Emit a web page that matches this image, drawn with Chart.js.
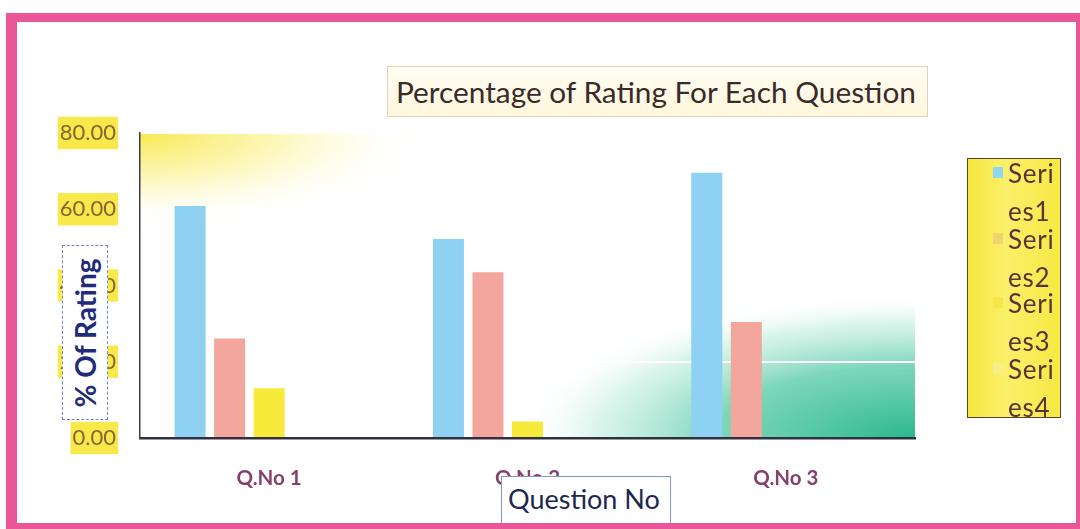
<!DOCTYPE html>
<html>
<head>
<meta charset="utf-8">
<script src="https://cdn.jsdelivr.net/npm/chart.js@4.4.1/dist/chart.umd.min.js"></script>
<style>
  html, body { margin:0; padding:0; background:#fff; }
  #wrap { position:relative; width:1080px; height:529px; overflow:hidden; background:#fff; font-family: Lato, "Open Sans", sans-serif; }
  #c { position:absolute; left:0; top:0; }
  #frame { position:absolute; left:6px; top:13px; width:1074px; height:516px; box-sizing:border-box;
           border-left:11px solid #ea5698; border-top:9px solid #ea5698; border-right:4px solid #ea5698; border-bottom:6px solid #ea5698; }
  #title { position:absolute; left:387px; top:66px; width:541px; height:51px; box-sizing:border-box;
           border:1px solid #ddd3c0; background:linear-gradient(180deg,#fffdf3,#fff7dc);
           font-size:29.8px; color:#3a2a2a; line-height:49px; padding-left:8px; white-space:nowrap; }
  #ytitle { position:absolute; left:62px; top:245px; width:46px; height:175px; box-sizing:border-box;
            border:1.5px dashed #6f86c8; background:#fff; }
  #ytitle span { position:absolute; left:50%; top:50%; transform:translate(-50%,-50%) rotate(-90deg);
                 font-weight:700; font-size:28px; color:#1f2b7b; white-space:nowrap; }
  #xtitle { position:absolute; left:501px; top:476px; width:170px; height:50px; box-sizing:border-box;
            border:1.5px solid #7c97d2; background:#fff; font-size:27px; color:#1d2850;
            line-height:44px; padding-left:6px; white-space:nowrap; }
  #legend { position:absolute; left:967px; top:158px; width:94px; height:260px; box-sizing:border-box;
            border:1.5px solid #5a4326; background:linear-gradient(90deg,#f6e63e,#faf06a 40%,#f7e844); }
  .lt { position:absolute; left:40px; font-size:26px; letter-spacing:0.8px; color:#5b3236; line-height:26px; }
  .sw { position:absolute; left:25px; width:10px; height:11px; }
</style>
</head>
<body>
<div id="wrap">
  <canvas id="c" width="1080" height="529"></canvas>
  <div id="title">Percentage of Rating For Each Question</div>
  <div id="ytitle"><span>% Of Rating</span></div>
  <div id="xtitle">Question No</div>
  <div id="legend"></div>
  <div id="frame"></div>
</div>
<script>
const categories = ['Q.No 1', 'Q.No 2', 'Q.No 3'];
const seriesNames = ['Series1', 'Series2', 'Series3', 'Series4', 'Series5'];
const series1 = [60.87, 52.17, 69.57];
const series2 = [26.09, 43.48, 30.43];
const series3 = [13.04, 4.35, 0];
const series4 = [0, 0, 0];
const series5 = [0, 0, 0];
const yTickValues = [0, 20, 40, 60, 80];
const yTickLabels = ['0.00', '20.00', '40.00', '60.00', '80.00'];
const barColors = ['#8fd1f2', '#f3a79c', '#f7ea3a', '#f6ee8a', '#e0e0e0'];
const legendSwatches = ['#92d5f2', '#eed56c', '#f5e64a', '#f6ee8a'];

// HTML legend (Excel legend shows the first four entries, names wrapped)
const leg = document.getElementById('legend');
const entryTop = [0, 66, 130, 196];
for (let i = 0; i < 4; i++) {
  const name = seriesNames[i];
  const t0 = entryTop[i];
  const sw = document.createElement('div');
  sw.className = 'sw'; sw.style.top = (t0 + 8) + 'px'; sw.style.background = legendSwatches[i];
  leg.appendChild(sw);
  const a = document.createElement('div'); a.className = 'lt'; a.style.top = (t0 + 1) + 'px'; a.textContent = name.slice(0, 4);
  const b = document.createElement('div'); b.className = 'lt'; b.style.top = (t0 + 39) + 'px'; b.textContent = name.slice(4);
  leg.appendChild(a); leg.appendChild(b);
}

const bgPlugin = {
  id: 'bgGradients',
  beforeDraw(chart) {
    const { ctx, chartArea: a } = chart;
    ctx.save();
    ctx.beginPath(); ctx.rect(a.left, a.top, a.right - a.left, a.bottom - a.top); ctx.clip();
    // yellow glow top-left
    ctx.save();
    ctx.translate(a.left, a.top); ctx.scale(290, 95);
    let g = ctx.createRadialGradient(0, 0, 0, 0, 0, 1);
    g.addColorStop(0, 'rgba(247,230,60,0.9)');
    g.addColorStop(0.5, 'rgba(250,238,110,0.45)');
    g.addColorStop(1, 'rgba(255,255,255,0)');
    ctx.fillStyle = g; ctx.fillRect(0, 0, 1, 1);
    ctx.restore();
    // green glow bottom-right
    ctx.save();
    ctx.translate(a.right, a.bottom); ctx.scale(400, 145);
    g = ctx.createRadialGradient(0, 0, 0, 0, 0, 1);
    g.addColorStop(0, 'rgba(30,180,135,0.95)');
    g.addColorStop(0.5, 'rgba(75,198,160,0.72)');
    g.addColorStop(0.8, 'rgba(150,225,200,0.35)');
    g.addColorStop(1, 'rgba(255,255,255,0)');
    ctx.fillStyle = g; ctx.fillRect(-1, -1, 1, 1);
    ctx.restore();
    ctx.restore();
  }
};

const datasets = [series1, series2, series3, series4, series5].map((d, i) => ({
  label: seriesNames[i],
  data: d,
  backgroundColor: barColors[i],
  borderWidth: 0,
  categoryPercentage: 0.765,
  barPercentage: 0.785
}));

new Chart(document.getElementById('c'), {
  type: 'bar',
  data: { labels: categories, datasets },
  plugins: [bgPlugin],
  options: {
    responsive: false,
    animation: false,
    devicePixelRatio: 1,
    layout: { padding: { left: 0, top: 133, right: 165, bottom: 0 } },
    plugins: { legend: { display: false }, tooltip: { enabled: false }, title: { display: false } },
    scales: {
      x: {
        afterFit(s) { s.height = 91; },
        grid: { display: false, drawTicks: false },
        border: { display: true, color: '#2f3040', width: 2.5 },
        ticks: { padding: 28, color: '#86406e', font: { family: 'Lato', size: 20.5, weight: 'bold' } }
      },
      y: {
        min: 0, max: 80,
        afterFit(s) { s.width = 140; },
        afterBuildTicks(s) { s.ticks = yTickValues.map(v => ({ value: v })); },
        grid: { color: '#ffffff', lineWidth: 2, drawTicks: false },
        border: { display: true, color: '#3b3b50', width: 1.5 },
        ticks: {
          padding: 24,
          color: '#8a6434',
          font: { family: 'Lato', size: 22 },
          showLabelBackdrop: true,
          backdropColor: '#f8e84a',
          backdropPadding: { top: 3, bottom: 3, left: 2, right: 2 },
          callback: (v) => yTickLabels[yTickValues.indexOf(v)]
        }
      }
    }
  }
});
</script>
</body>
</html>
